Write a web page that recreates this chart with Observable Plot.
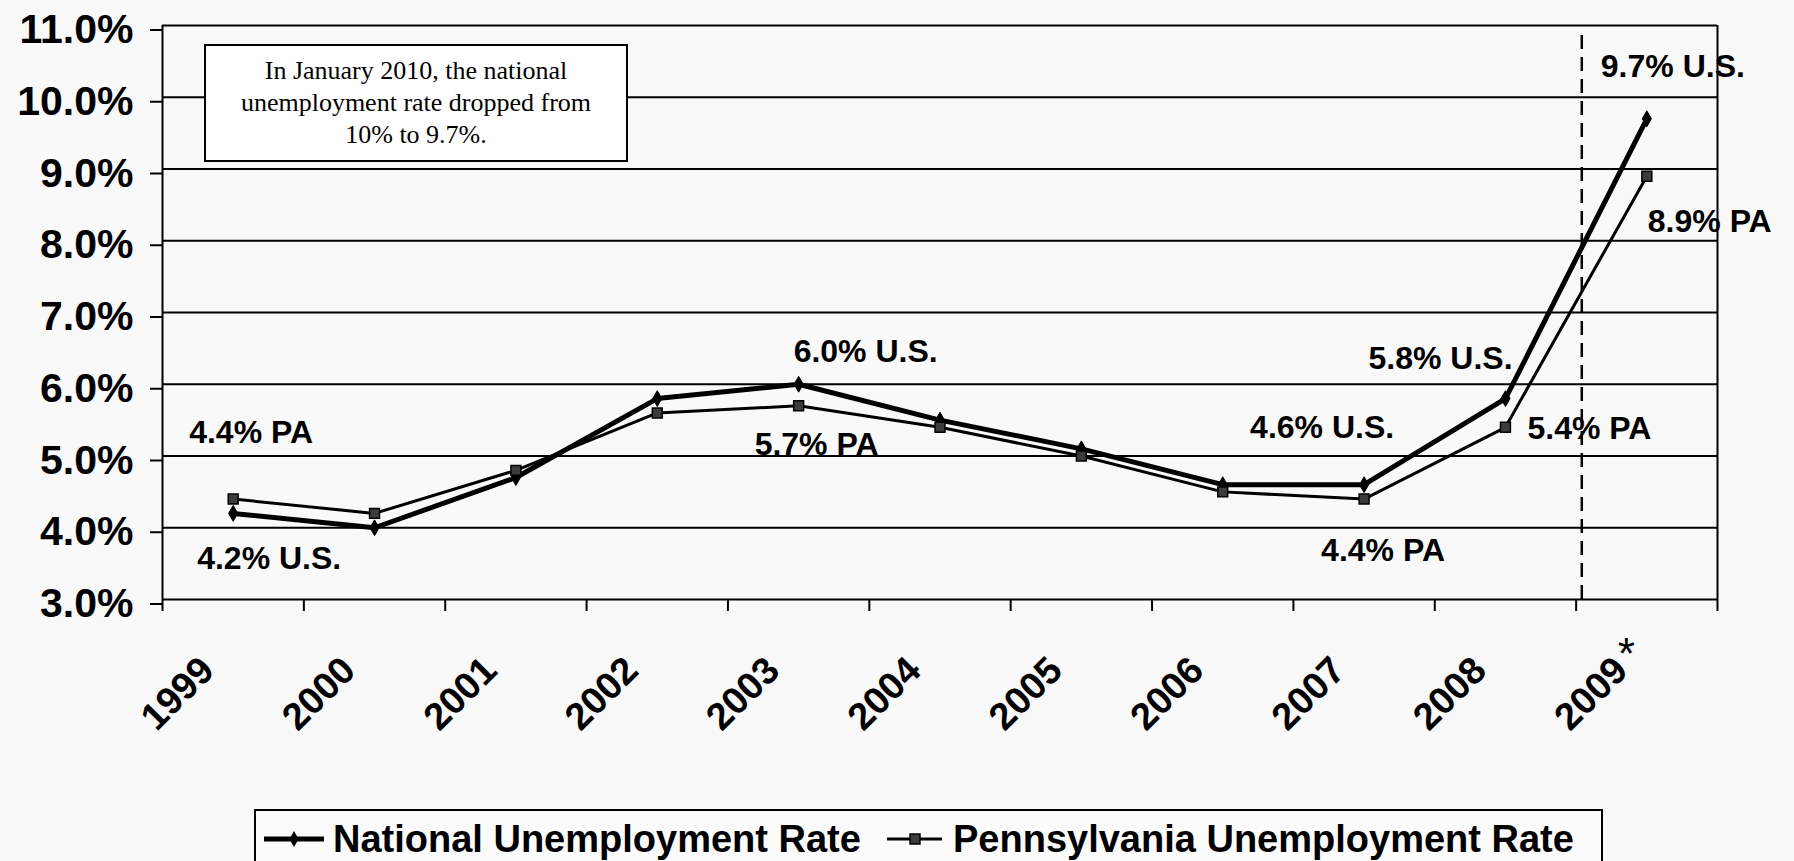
<!DOCTYPE html>
<html>
<head>
<meta charset="utf-8">
<script src="https://cdn.jsdelivr.net/npm/d3@7"></script>
<script src="https://cdn.jsdelivr.net/npm/@observablehq/plot@0.6"></script>
<style>
  html, body { margin: 0; padding: 0; background: #f9f9f9; }
  body { position: relative; width: 1794px; height: 861px; overflow: hidden; font-family: "Liberation Sans", Arial, sans-serif; }
  #note {
    position: absolute; left: 204px; top: 44px; width: 420px; height: 114px;
    border: 2px solid #000; background: #fff; box-sizing: content-box;
    font-family: "Liberation Serif", "Times New Roman", serif; font-size: 26px; line-height: 32px;
    text-align: center; padding-top: 0; color: #000;
  }
  #note div { padding-top: 9px; }
  #legend {
    position: absolute; left: 254px; top: 809px; width: 1345px; height: 70px;
    border: 2px solid #000; background: #fbfbfb;
  }
</style>
</head>
<body>
<div id="chart"></div>
<div id="note"><div>In January 2010, the national<br>unemployment rate dropped from<br>10% to 9.7%.</div></div>
<div id="legend"></div>
<script>
// ---- data ----
const years = [1999, 2000, 2001, 2002, 2003, 2004, 2005, 2006, 2007, 2008, 2009];
const yearLabels = ["1999", "2000", "2001", "2002", "2003", "2004", "2005", "2006", "2007", "2008", "2009"];
const national = [4.2, 4.0, 4.7, 5.8, 6.0, 5.5, 5.1, 4.6, 4.6, 5.8, 9.7];
const pennsylvania = [4.4, 4.2, 4.8, 5.6, 5.7, 5.4, 5.0, 4.5, 4.4, 5.4, 8.9];
const yTicks = [3, 4, 5, 6, 7, 8, 9, 10, 11];
const seriesNames = ["National Unemployment Rate", "Pennsylvania Unemployment Rate"];
const seriesSuffix = {national: "% U.S.", pennsylvania: "% PA"};
const preliminaryYear = 2009;       // marked with an asterisk
const dividerYear = 2008.54;        // dashed divider before preliminary data
// labelled points: series + year
const labelled = [
  {series: "pennsylvania", year: 1999},
  {series: "national", year: 1999},
  {series: "national", year: 2003},
  {series: "pennsylvania", year: 2003},
  {series: "national", year: 2007},
  {series: "pennsylvania", year: 2007},
  {series: "national", year: 2008},
  {series: "pennsylvania", year: 2008},
  {series: "national", year: 2009},
  {series: "pennsylvania", year: 2009}
];

// ---- layout (offsets of labels from their points) ----
const labelOffsets = {
  "pennsylvania-1999": [-44, -56],
  "national-1999": [-36, 56],
  "national-2003": [-5, -22],
  "pennsylvania-2003": [-44, 49],
  "national-2007": [-114, -47],
  "pennsylvania-2007": [-43, 62],
  "national-2008": [-137, -30],
  "pennsylvania-2008": [22, 12],
  "national-2009": [-46, -42],
  "pennsylvania-2009": [1, 56]
};

const seriesValues = {national, pennsylvania};
const natData = years.map((year, i) => ({year, value: national[i]}));
const paData = years.map((year, i) => ({year, value: pennsylvania[i]}));
const boundaries = years.map(y => y - 0.5).concat([years[years.length - 1] + 0.5]);
const xDomain = [boundaries[0], boundaries[boundaries.length - 1]];

const font = '"Liberation Sans", Arial, sans-serif';

const labelMarks = labelled.map(l => {
  const i = years.indexOf(l.year);
  const v = seriesValues[l.series][i];
  const [dx, dy] = labelOffsets[`${l.series}-${l.year}`];
  return Plot.text([{year: l.year, value: v, label: v.toFixed(1) + seriesSuffix[l.series]}], {
    x: "year", y: "value", text: "label", dx, dy,
    textAnchor: "start", lineAnchor: "bottom",
    fontSize: 32, fontWeight: "bold", fill: "#000"
  });
});

const chart = Plot.plot({
  width: 1794,
  height: 800,
  marginLeft: 162,
  marginRight: 77,
  marginTop: 25,
  marginBottom: 201,
  style: {background: "#f9f9f9", fontFamily: font, color: "#000"},
  x: {type: "linear", domain: xDomain},
  y: {domain: [yTicks[0], yTicks[yTicks.length - 1]]},
  marks: [
    Plot.ruleY(yTicks, {stroke: "#000", strokeWidth: 2}),
    Plot.ruleX(xDomain, {stroke: "#000", strokeWidth: 2}),
    Plot.axisY({ticks: yTicks, tickSize: 12, tickPadding: 17, strokeWidth: 2,
      tickFormat: d => d.toFixed(1) + "%", fontSize: 41, fontWeight: "bold", dy: 4.5, label: null}),
    Plot.axisX({ticks: boundaries, tickSize: 12, strokeWidth: 2, tickFormat: () => "", label: null}),
    Plot.text(years, {x: d => d, frameAnchor: "bottom", text: (d, i) => yearLabels[i],
      rotate: -45, textAnchor: "end", lineAnchor: "bottom", dx: -17, dy: 73,
      fontSize: 38, fontWeight: "bold", fill: "#000"}),
    Plot.text([preliminaryYear], {x: d => d, frameAnchor: "bottom", text: () => "*",
      textAnchor: "start", lineAnchor: "bottom", dx: -29, dy: 69, fontSize: 44, fill: "#000"}),
    Plot.ruleX([dividerYear], {stroke: "#000", strokeWidth: 2.5, strokeDasharray: "14,8", y1: yTicks[0], y2: 10.95}),
    Plot.line(natData, {x: "year", y: "value", stroke: "#000", strokeWidth: 5}),
    Plot.dot(natData, {x: "year", y: "value", symbol: "diamond", r: 4.8, fill: "#000", stroke: "#000", strokeWidth: 1}),
    Plot.line(paData, {x: "year", y: "value", stroke: "#000", strokeWidth: 3}),
    Plot.dot(paData, {x: "year", y: "value", symbol: "square", r: 5.6, fill: "#3c3c3c", stroke: "#000", strokeWidth: 1.5}),
    ...labelMarks
  ]
});
document.getElementById("chart").appendChild(chart);

// ---- legend ----
const ns = "http://www.w3.org/2000/svg";
const lg = document.createElementNS(ns, "svg");
lg.setAttribute("width", 1345);
lg.setAttribute("height", 70);
lg.innerHTML = `
  <line x1="8" x2="68" y1="28" y2="28" stroke="#000" stroke-width="5"/>
  <path d="${d3.symbol(d3.symbolDiamond, Math.PI * 4.8 * 4.8)()}" transform="translate(38,28)" fill="#000"/>
  <text x="77" y="41" font-family='${font}' font-size="38" font-weight="bold">${seriesNames[0]}</text>
  <line x1="631" x2="686" y1="28" y2="28" stroke="#000" stroke-width="3"/>
  <path d="${d3.symbol(d3.symbolSquare, Math.PI * 5.6 * 5.6)()}" transform="translate(659,28)" fill="#3c3c3c" stroke="#000" stroke-width="1.5"/>
  <text x="697" y="41" font-family='${font}' font-size="38" font-weight="bold">${seriesNames[1]}</text>
`;
document.getElementById("legend").appendChild(lg);
</script>
</body>
</html>
